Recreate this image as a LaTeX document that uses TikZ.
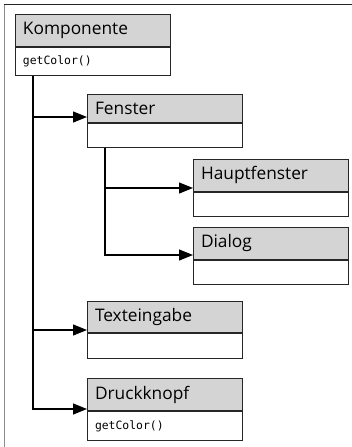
\documentclass[tikz,border=0pt]{standalone}
\usepackage{fontspec}
\setmainfont{Open Sans}
\newfontfamily\codefont{DejaVu Sans Mono}
\usetikzlibrary{arrows.meta}
\definecolor{hdrgray}{HTML}{D4D4D4}
\definecolor{boxline}{HTML}{262626}
\definecolor{framegray}{HTML}{8C8C8C}
\begin{document}
\begin{tikzpicture}[x=1pt,y=-1pt,
  boxpart/.style={draw=boxline, line width=1pt, anchor=north west, inner xsep=7.5pt, inner ysep=0pt,
    align=left, minimum width=155pt, text width=140pt},
  hdrbox/.style={boxpart, fill=hdrgray, font=\fontsize{17.3}{19}\selectfont},
  bodybox/.style={boxpart, fill=white, font=\codefont\fontsize{11.4}{13}\selectfont},
  conn/.style={draw=black, line width=1.2pt},
  arr/.style={conn, -{Triangle[length=14pt,width=11pt]}}
]
\useasboundingbox (0,0) rectangle (352,447);
% outer frame
\draw[framegray, line width=1.5pt] (4.5,4) -- (4.5,447);
\draw[boxline, line width=1pt] (4,4.5) -- (352,4.5);

% Komponente
\node[hdrbox, minimum height=32pt] (kompH) at (15,14) {Komponente};
\node[bodybox, minimum height=28pt] (kompB) at (kompH.south west) {getColor()};

% Fenster
\node[hdrbox, minimum height=28pt] (fenH) at (87,94) {Fenster};
\node[bodybox, minimum height=23.5pt] (fenB) at (fenH.south west) {};

% Hauptfenster
\node[hdrbox, minimum height=31.5pt] (hauH) at (193,159) {Hauptfenster};
\node[bodybox, minimum height=24.5pt] (hauB) at (hauH.south west) {};

% Dialog
\node[hdrbox, minimum height=31.5pt] (diaH) at (193,227) {Dialog};
\node[bodybox, minimum height=24.5pt] (diaB) at (diaH.south west) {};

% Texteingabe
\node[hdrbox, minimum height=31pt] (texH) at (87,301) {Texteingabe};
\node[bodybox, minimum height=25pt] (texB) at (texH.south west) {};

% Druckknopf
\node[hdrbox, minimum height=32pt] (druH) at (87,378) {Druckknopf};
\node[bodybox, minimum height=29pt] (druB) at (druH.south west) {getColor()};

% connectors
\draw[arr] ([xshift=18pt]kompB.south west) |- ([yshift=2pt]druH.south west);
\draw[arr] ([xshift=18pt]kompB.south west) |- ([yshift=6pt]fenH.south west);
\draw[arr] ([xshift=18pt]kompB.south west) |- ([yshift=3pt]texH.south west);
\draw[arr] ([xshift=18pt]fenB.south west) |- ([yshift=4.5pt]diaH.south west);
\draw[arr] ([xshift=18pt]fenB.south west) |- ([yshift=3.5pt]hauH.south west);
\end{tikzpicture}
\end{document}
